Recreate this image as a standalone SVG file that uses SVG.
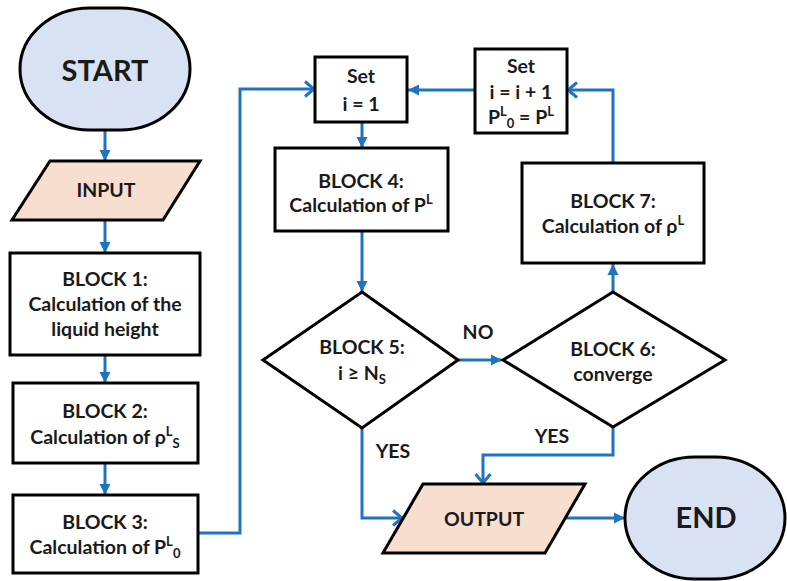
<svg xmlns="http://www.w3.org/2000/svg" width="787" height="581" viewBox="0 0 787 581">
  <defs>
    <style>
      .box { fill: #ffffff; stroke: #000000; stroke-width: 3; }
      .term { fill: #D9E2F3; stroke: #000000; stroke-width: 3; }
      .io { fill: #F8DECF; stroke: #000000; stroke-width: 3; }
      .wire { fill: none; stroke: #1F74BE; stroke-width: 3; }
      .t { font-family: Lato, "Liberation Sans", sans-serif; font-weight: bold; font-size: 19.5px; fill: #1a1a1a; text-anchor: middle; }
      .big { font-size: 29px; }
      .s { font-size: 13px; }
    </style>
    <marker id="tri" markerUnits="userSpaceOnUse" markerWidth="14" markerHeight="14" refX="12" refY="7" orient="auto">
      <path d="M1,1.5 L12,7 L1,12.5 Z" fill="#1F74BE"/>
    </marker>
    <marker id="vee" markerUnits="userSpaceOnUse" markerWidth="16" markerHeight="18" refX="13" refY="9" orient="auto">
      <path d="M4,1.5 L13,9 L4,16.5" fill="none" stroke="#1F74BE" stroke-width="3"/>
    </marker>
  </defs>

  <!-- connectors -->
  <g id="connectors">
    <path class="wire" d="M105,131 V161" marker-end="url(#tri)"/>
    <path class="wire" d="M105,220 V253" marker-end="url(#tri)"/>
    <path class="wire" d="M105,355 V383" marker-end="url(#tri)"/>
    <path class="wire" d="M105,463 V495" marker-end="url(#tri)"/>
    <path class="wire" d="M198,533 H240 V89 H314" marker-end="url(#vee)"/>
    <path class="wire" d="M362,122 V148" marker-end="url(#tri)"/>
    <path class="wire" d="M362,231 V292" marker-end="url(#tri)"/>
    <path class="wire" d="M458,360 H502" marker-end="url(#tri)"/>
    <path class="wire" d="M613,292 V264" marker-end="url(#tri)"/>
    <path class="wire" d="M613,163 V90 H568" marker-end="url(#vee)"/>
    <path class="wire" d="M475,90 H408" marker-end="url(#tri)"/>
    <path class="wire" d="M362,428 V518 H402" marker-end="url(#vee)"/>
    <path class="wire" d="M613,427 V455 H483 V483" marker-end="url(#vee)"/>
    <path class="wire" d="M565,518 H625" marker-end="url(#tri)"/>
    <text class="t" x="478" y="339">NO</text>
    <text class="t" x="393" y="458">YES</text>
    <text class="t" x="552" y="443">YES</text>
  </g>

  <g id="start">
    <rect class="term" x="20" y="8" width="170" height="122" rx="70" ry="61"/>
    <text class="t big" x="105" y="81">START</text>
  </g>

  <g id="input">
    <polygon class="io" points="50,161 200,161 163,220 12,220"/>
    <text class="t" x="106" y="197">INPUT</text>
  </g>

  <g id="block1">
    <rect class="box" x="10" y="253" width="190" height="102"/>
    <text class="t" x="105" y="286">BLOCK 1:</text>
    <text class="t" x="105" y="311">Calculation of the</text>
    <text class="t" x="105" y="336">liquid height</text>
  </g>

  <g id="block2">
    <rect class="box" x="13" y="383" width="185" height="80"/>
    <text class="t" x="105" y="418">BLOCK 2:</text>
    <text class="t" x="105" y="444">Calculation of ρ<tspan class="s" dy="-8">L</tspan><tspan class="s" dy="12">S</tspan></text>
  </g>

  <g id="block3">
    <rect class="box" x="13" y="495" width="185" height="78"/>
    <text class="t" x="105" y="529">BLOCK 3:</text>
    <text class="t" x="105" y="554">Calculation of P<tspan class="s" dy="-8">L</tspan><tspan class="s" dy="12">0</tspan></text>
  </g>

  <g id="set-init">
    <rect class="box" x="315" y="57" width="92" height="65"/>
    <text class="t" x="361" y="83">Set</text>
    <text class="t" x="361" y="111">i = 1</text>
  </g>

  <g id="block4">
    <rect class="box" x="275" y="148" width="173" height="83"/>
    <text class="t" x="361" y="188">BLOCK 4:</text>
    <text class="t" x="361" y="212">Calculation of P<tspan class="s" dy="-8">L</tspan></text>
  </g>

  <g id="set-next">
    <rect class="box" x="475" y="49" width="92" height="84"/>
    <text class="t" x="521" y="73">Set</text>
    <text class="t" x="521" y="99">i = i + 1</text>
    <text class="t" x="521" y="124">P<tspan class="s" dy="-8">L</tspan><tspan class="s" dy="12">0</tspan><tspan dy="-4"> = P</tspan><tspan class="s" dy="-8">L</tspan></text>
  </g>

  <g id="block7">
    <rect class="box" x="522" y="163" width="182" height="100"/>
    <text class="t" x="613" y="208">BLOCK 7:</text>
    <text class="t" x="613" y="233">Calculation of ρ<tspan class="s" dy="-8">L</tspan></text>
  </g>

  <g id="block5">
    <polygon class="box" points="362,292 458,360 362,428 263,360"/>
    <text class="t" x="362" y="354">BLOCK 5:</text>
    <text class="t" x="362" y="380">i ≥ N<tspan class="s" dy="4">S</tspan></text>
  </g>

  <g id="block6">
    <polygon class="box" points="613,292 725,360 613,427 503,360"/>
    <text class="t" x="613" y="356">BLOCK 6:</text>
    <text class="t" x="613" y="381">converge</text>
  </g>

  <g id="output">
    <polygon class="io" points="423,484 585,484 545,553 383,553"/>
    <text class="t" x="484" y="526">OUTPUT</text>
  </g>

  <g id="end">
    <rect class="term" x="625" y="457" width="160" height="122" rx="70" ry="61"/>
    <text class="t big" x="706" y="528">END</text>
  </g>
</svg>
